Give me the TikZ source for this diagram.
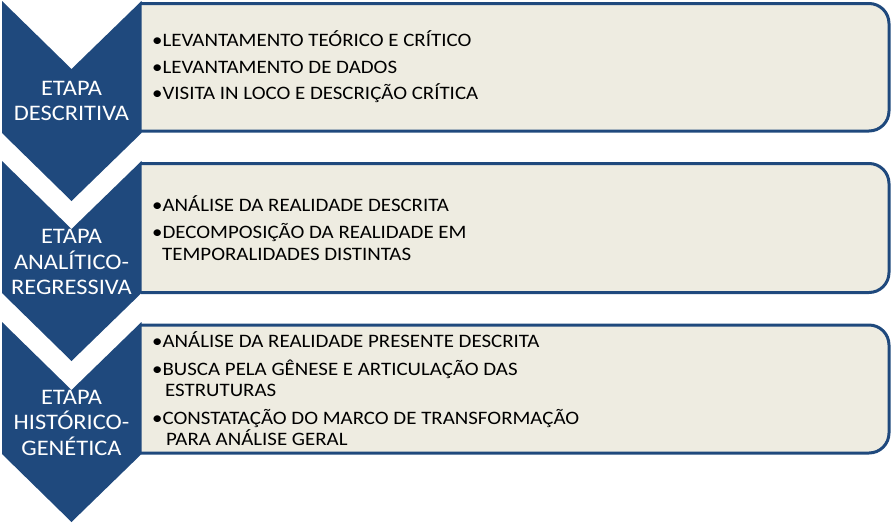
\documentclass[tikz,border=0pt]{standalone}
\usepackage{fontspec}
\setmainfont{Carlito}[FakeStretch=1.1]
\definecolor{etapablue}{RGB}{31,73,125}
\definecolor{etapabg}{RGB}{238,236,225}
\tikzset{
  etapa/.style={fill=etapablue, draw=none},
  caixa/.style={fill=etapabg, draw=etapablue, line width=3pt, rounded corners=20pt},
  titulo/.style={text=white, align=center, font=\fontsize{22.2}{25.5}\selectfont},
  lista/.style={anchor=west, align=left, inner sep=0pt, font=\fontsize{19}{21.5}\selectfont}
}
\begin{document}
\begin{tikzpicture}[x=1pt,y=-1pt]
  \useasboundingbox (0,0) rectangle (892,523);
  % caixas
  \begin{scope}
    \clip (141,0) rectangle (892,523);
    \draw[caixa] (100,3.5) rectangle (889,131);
    \draw[caixa] (100,163.5) rectangle (889,292.5);
    \draw[caixa] (100,325) rectangle (889,453);
  \end{scope}
  % setas
  \foreach \t in {1,161,322}
    \fill[etapa] (2,\t) -- (71.5,\t+68) -- (141.5,\t) -- (141.5,\t+132)
      -- (71.5,\t+200) -- (2,\t+132) -- cycle;
  \node[titulo] (e1) at (71.5,101) {ETAPA\\DESCRITIVA};
  \node[titulo] (e2) at (71.5,262) {ETAPA\\ANALÍTICO-\\REGRESSIVA};
  \node[titulo] (e3) at (71.5,422.5) {ETAPA\\HISTÓRICO-\\GENÉTICA};
  % textos
  \node[lista] (l1) at (152,67) {•LEVANTAMENTO TEÓRICO E CRÍTICO\\[5pt]
    •LEVANTAMENTO DE DADOS\\[5pt]
    •VISITA IN LOCO E DESCRIÇÃO CRÍTICA};
  \node[lista] (l2) at (152,228) {•ANÁLISE DA REALIDADE DESCRITA\\[6pt]
    •DECOMPOSIÇÃO DA REALIDADE EM\\
    \hspace{10pt}TEMPORALIDADES DISTINTAS};
  \node[lista] (l3) at (152,389) {•ANÁLISE DA REALIDADE PRESENTE DESCRITA\\[6pt]
    •BUSCA PELA GÊNESE E ARTICULAÇÃO DAS\\
    \hspace{13pt}ESTRUTURAS\\[6pt]
    •CONSTATAÇÃO DO MARCO DE TRANSFORMAÇÃO\\
    \hspace{14pt}PARA ANÁLISE GERAL};
\end{tikzpicture}
\end{document}
